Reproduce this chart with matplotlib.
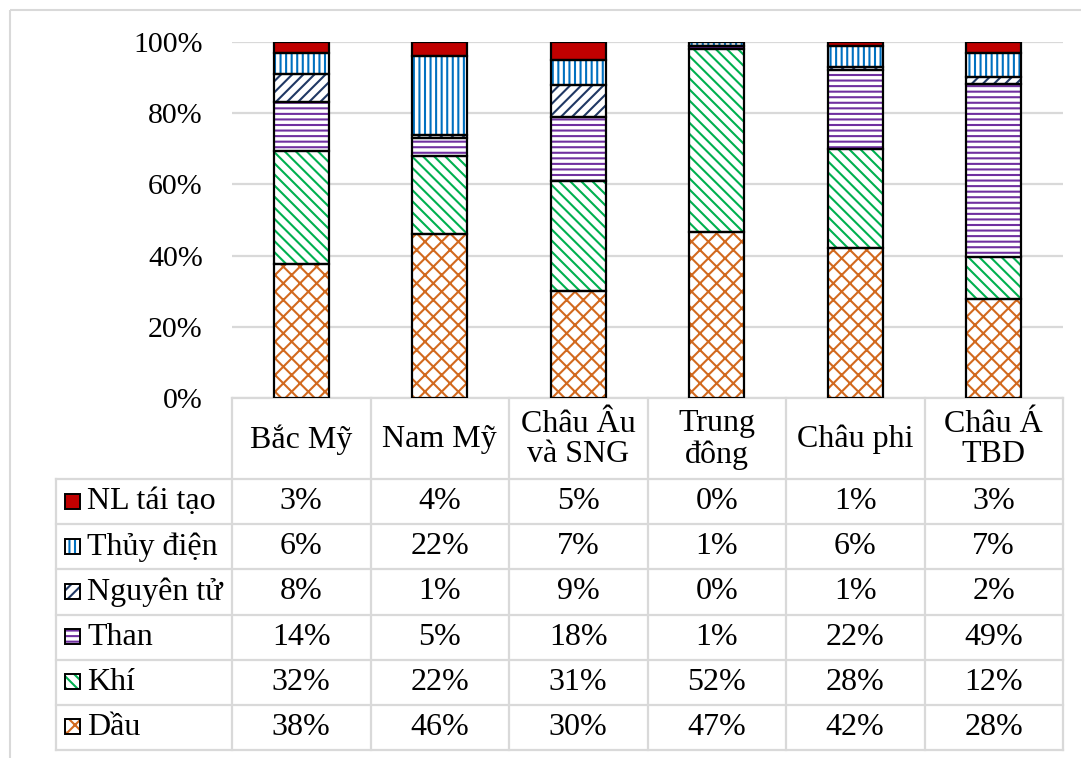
import matplotlib
matplotlib.use('Agg')
import matplotlib.pyplot as plt
import numpy as np
from matplotlib.patches import Rectangle

# ---- data -------------------------------------------------------------
regions = ['Bắc Mỹ', 'Nam Mỹ', 'Châu Âu\nvà SNG', 'Trung\nđông', 'Châu phi', 'Châu Á\nTBD']
# energy sources, stacked bottom to top
sources = ['Dầu', 'Khí', 'Than', 'Nguyên tử', 'Thủy điện', 'NL tái tạo']
dau = [38, 46, 30, 47, 42, 28]
khi = [32, 22, 31, 52, 28, 12]
than = [14, 5, 18, 1, 22, 49]
nguyen_tu = [8, 1, 9, 0, 1, 2]
thuy_dien = [6, 22, 7, 1, 6, 7]
nl_tai_tao = [3, 4, 5, 0, 1, 3]
y_ticks = [0, 20, 40, 60, 80, 100]

series = [dau, khi, than, nguyen_tu, thuy_dien, nl_tai_tao]

# ---- styles -----------------------------------------------------------
colors = ['#D2691E', '#00B050', '#7030A0', '#203864', '#0070C0', '#C00000']
hatches = ['xx', '\\\\\\', '---', '///', '|||', None]

plt.rcParams['font.family'] = ['Liberation Serif', 'DejaVu Serif']
plt.rcParams['hatch.linewidth'] = 1.5

W, H = 1081, 758
fig = plt.figure(figsize=(W / 100, H / 100), dpi=100)

# layout in pixels
plot_l, plot_r = 232, 1063
plot_t, plot_b = 42, 398
tab_l = 56
row_top = 479
row_h = (750 - row_top) / 6
col_w = (plot_r - plot_l) / 6
grid_col = '#D9D9D9'
fs_table = 23
fs_tick = 21.5

# ---- overlay for border and data table ----------------------------------
ov = fig.add_axes([0, 0, 1, 1])
ov.set_xlim(0, W)
ov.set_ylim(H, 0)
ov.axis('off')
ov.set_zorder(0)

ov.add_patch(Rectangle((10, 10), W + 20, H + 20, fill=False,
                       edgecolor=grid_col, lw=1.5))

# table grid
ov.plot([plot_l, plot_r], [plot_b, plot_b], color=grid_col, lw=1.6)
for i in range(7):
    y = row_top + i * row_h
    ov.plot([tab_l, plot_r], [y, y], color=grid_col, lw=1.6)
ov.plot([tab_l, tab_l], [row_top, 750], color=grid_col, lw=1.6)
for k in range(7):
    x = plot_l + k * col_w
    ov.plot([x, x], [plot_b, 750], color=grid_col, lw=1.6)

# header row
for k, name in enumerate(regions):
    ov.text(plot_l + (k + 0.5) * col_w, (plot_b + row_top) / 2 + 1, name,
            ha='center', va='center', fontsize=fs_table, linespacing=1.08)

# data rows (top row = last stacked series)
for i, idx in enumerate(range(len(sources) - 1, -1, -1)):
    yc = row_top + (i + 0.5) * row_h
    vals = series[idx]
    # legend key
    ov.add_patch(Rectangle((65, yc - 8), 15, 15, facecolor='white',
                           edgecolor=colors[idx] if hatches[idx] else 'black',
                           hatch=hatches[idx], lw=0))
    ov.add_patch(Rectangle((65, yc - 8), 15, 15,
                           facecolor=colors[idx] if hatches[idx] is None else 'none',
                           edgecolor='black', lw=1.4))
    ov.text(87, yc, sources[idx], ha='left', va='center', fontsize=fs_table)
    for k, v in enumerate(vals):
        ov.text(plot_l + (k + 0.5) * col_w, yc, f'{v}%',
                ha='center', va='center', fontsize=fs_table)

# ---- stacked 100% bars --------------------------------------------------
ax = fig.add_axes([plot_l / W, 1 - plot_b / H, (plot_r - plot_l) / W,
                   (plot_b - plot_t) / H])
ax.set_zorder(1)
ax.patch.set_alpha(0)

data = np.array(series, dtype=float)
shares = data / data.sum(axis=0) * 100
x = np.arange(len(regions))
bottom = np.zeros(len(regions))
for s in range(len(sources)):
    if hatches[s] is None:
        ax.bar(x, shares[s], 0.4, bottom=bottom, color=colors[s],
               edgecolor='black', lw=1.6, zorder=3)
    else:
        ax.bar(x, shares[s], 0.4, bottom=bottom, color='white',
               edgecolor=colors[s], hatch=hatches[s], lw=0, zorder=3)
        ax.bar(x, shares[s], 0.4, bottom=bottom, fill=False,
               edgecolor='black', lw=1.6, zorder=4)
    bottom += shares[s]

ax.set_xlim(-0.5, len(regions) - 0.5)
ax.set_ylim(0, 100)
ax.set_yticks(y_ticks)
ax.set_yticklabels([f'{t}%' for t in y_ticks], fontsize=fs_tick)
ax.tick_params(axis='y', length=0, pad=21)
ax.set_xticks([])
ax.grid(axis='y', color=grid_col, lw=1.6, zorder=0)
for sp in ax.spines.values():
    sp.set_visible(False)

fig.savefig('out.png', dpi=100)
